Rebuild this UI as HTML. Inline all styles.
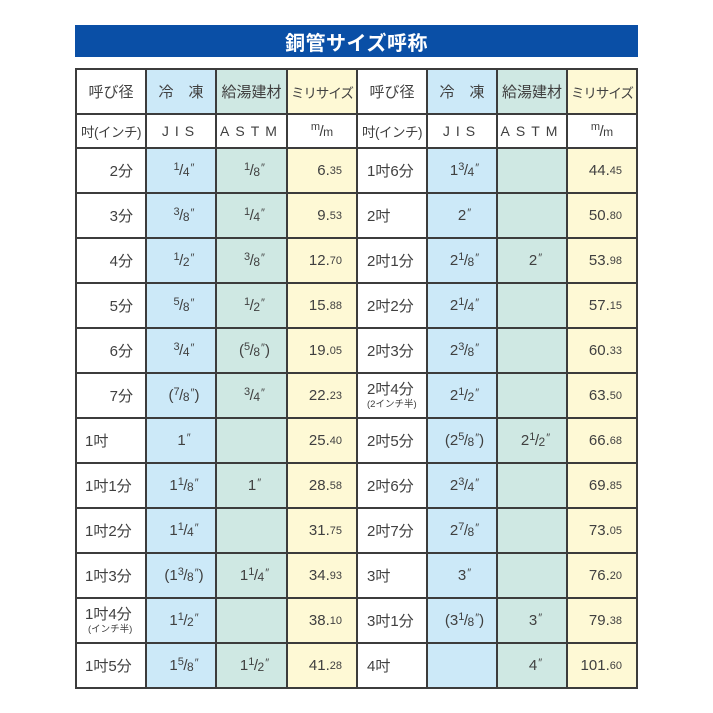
<!DOCTYPE html>
<html><head><meta charset="utf-8">
<style>
html,body{margin:0;padding:0;background:#fff;}
body{width:713px;height:713px;position:relative;overflow:hidden;font-family:"Liberation Sans","Noto Sans CJK JP",sans-serif;color:#404040;font-size:15px;}
.title{position:absolute;left:75px;top:25px;width:563px;height:32px;background:#0a4fa6;color:#fff;font-weight:bold;font-size:20px;display:flex;align-items:center;justify-content:center;letter-spacing:0.5px;font-family:"Liberation Sans","Noto Sans CJK JP",sans-serif;}
.bgw{position:absolute;left:76px;top:69px;width:561px;height:619px;background:#fff;}
.bl{position:absolute;background:#cce9f8;}
.tl{position:absolute;background:#cfe8e3;}
.yl{position:absolute;background:#fef9d5;}
.h{position:absolute;left:75px;width:563px;height:2px;background:#3c3c3c;}
.v{position:absolute;top:68px;width:2px;height:621px;background:#3c3c3c;}
.r{position:absolute;left:0;width:713px;height:45px;}
.c{position:absolute;top:0;height:45px;display:flex;align-items:center;box-sizing:border-box;white-space:nowrap;}
.a1{left:76px;width:70px;justify-content:flex-end;padding-right:13px;}
.a1l{left:76px;width:70px;justify-content:flex-start;padding-left:9px;}
.b{left:146px;width:70px;justify-content:center;padding-left:6px;}
.t{left:216px;width:71px;justify-content:center;padding-left:6px;}
.m{left:287px;width:70px;justify-content:flex-end;padding-right:15px;}
.e{left:357px;width:70px;justify-content:flex-start;padding-left:10px;}
.b2{left:427px;width:70px;justify-content:center;padding-left:5px;}
.t2{left:497px;width:70px;justify-content:center;padding-left:7px;}
.m2{left:567px;width:70px;justify-content:flex-end;padding-right:15px;}
.hc{justify-content:center;padding:0;}
.n{font-size:11px;position:relative;top:-4px;}
.d{font-size:12px;position:relative;top:1px;}
.sl{font-size:15px;margin:0 -0.5px;}
.q{font-size:11px;position:relative;top:-3px;margin-left:1px;}
.s{font-size:11px;}
.two{flex-direction:column;align-items:flex-start;justify-content:center;}
.two .sub{font-size:9.5px;line-height:11px;margin-top:1px;}
.two .main{line-height:17px;}
.sp{letter-spacing:6px;font-size:14px;}
.mili{font-size:13.5px;letter-spacing:-1px;}
</style></head><body>
<div class="title">銅管サイズ呼称</div>
<div class="bgw"></div>
<div class="bl" style="left:146px;top:69px;width:70px;height:45px"></div>
<div class="bl" style="left:146px;top:148px;width:70px;height:540px"></div>
<div class="tl" style="left:216px;top:69px;width:71px;height:45px"></div>
<div class="tl" style="left:216px;top:148px;width:71px;height:540px"></div>
<div class="yl" style="left:287px;top:69px;width:70px;height:45px"></div>
<div class="yl" style="left:287px;top:148px;width:70px;height:540px"></div>
<div class="bl" style="left:427px;top:69px;width:70px;height:45px"></div>
<div class="bl" style="left:427px;top:148px;width:70px;height:540px"></div>
<div class="tl" style="left:497px;top:69px;width:70px;height:45px"></div>
<div class="tl" style="left:497px;top:148px;width:70px;height:540px"></div>
<div class="yl" style="left:567px;top:69px;width:70px;height:45px"></div>
<div class="yl" style="left:567px;top:148px;width:70px;height:540px"></div>
<div class="h" style="top:68px"></div>
<div class="h" style="top:113px"></div>
<div class="h" style="top:147px"></div>
<div class="h" style="top:192px"></div>
<div class="h" style="top:237px"></div>
<div class="h" style="top:282px"></div>
<div class="h" style="top:327px"></div>
<div class="h" style="top:372px"></div>
<div class="h" style="top:417px"></div>
<div class="h" style="top:462px"></div>
<div class="h" style="top:507px"></div>
<div class="h" style="top:552px"></div>
<div class="h" style="top:597px"></div>
<div class="h" style="top:642px"></div>
<div class="h" style="top:687px"></div>
<div class="v" style="left:75px"></div>
<div class="v" style="left:145px"></div>
<div class="v" style="left:215px"></div>
<div class="v" style="left:286px"></div>
<div class="v" style="left:356px"></div>
<div class="v" style="left:426px"></div>
<div class="v" style="left:496px"></div>
<div class="v" style="left:566px"></div>
<div class="v" style="left:636px"></div>

<div class="r" style="top:69px">
<div class="c a1 hc">呼び径</div>
<div class="c b hc">冷　凍</div>
<div class="c t hc">給湯建材</div>
<div class="c m hc"><span class="mili">ミリサイズ</span></div>
<div class="c e hc">呼び径</div>
<div class="c b2 hc">冷　凍</div>
<div class="c t2 hc">給湯建材</div>
<div class="c m2 hc"><span class="mili">ミリサイズ</span></div>
</div>
<div class="r" style="top:114px;height:34px">
<div class="c a1 hc" style="height:34px;font-size:13.5px;letter-spacing:-0.5px">吋(インチ)</div>
<div class="c b hc" style="height:34px"><span class="sp">JIS</span></div>
<div class="c t hc" style="height:34px"><span class="sp">ASTM</span></div>
<div class="c m hc" style="height:34px"><span class="n">m</span><span class="sl">/</span><span class="d">m</span></div>
<div class="c e hc" style="height:34px;font-size:13.5px;letter-spacing:-0.5px">吋(インチ)</div>
<div class="c b2 hc" style="height:34px"><span class="sp">JIS</span></div>
<div class="c t2 hc" style="height:34px"><span class="sp">ASTM</span></div>
<div class="c m2 hc" style="height:34px"><span class="n">m</span><span class="sl">/</span><span class="d">m</span></div>
</div>

<div class="r" style="top:148px">
<div class="c a1">2分</div>
<div class="c b"><span class="n">1</span><span class="sl">/</span><span class="d">4</span><span class="q">″</span></div>
<div class="c t"><span class="n">1</span><span class="sl">/</span><span class="d">8</span><span class="q">″</span></div>
<div class="c m">6.<span class="s">35</span></div>
<div class="c e">1吋6分</div>
<div class="c b2">1<span class="n">3</span><span class="sl">/</span><span class="d">4</span><span class="q">″</span></div>
<div class="c t2"></div>
<div class="c m2">44.<span class="s">45</span></div>
</div>

<div class="r" style="top:193px">
<div class="c a1">3分</div>
<div class="c b"><span class="n">3</span><span class="sl">/</span><span class="d">8</span><span class="q">″</span></div>
<div class="c t"><span class="n">1</span><span class="sl">/</span><span class="d">4</span><span class="q">″</span></div>
<div class="c m">9.<span class="s">53</span></div>
<div class="c e">2吋</div>
<div class="c b2">2<span class="q">″</span></div>
<div class="c t2"></div>
<div class="c m2">50.<span class="s">80</span></div>
</div>

<div class="r" style="top:238px">
<div class="c a1">4分</div>
<div class="c b"><span class="n">1</span><span class="sl">/</span><span class="d">2</span><span class="q">″</span></div>
<div class="c t"><span class="n">3</span><span class="sl">/</span><span class="d">8</span><span class="q">″</span></div>
<div class="c m">12.<span class="s">70</span></div>
<div class="c e">2吋1分</div>
<div class="c b2">2<span class="n">1</span><span class="sl">/</span><span class="d">8</span><span class="q">″</span></div>
<div class="c t2">2<span class="q">″</span></div>
<div class="c m2">53.<span class="s">98</span></div>
</div>

<div class="r" style="top:283px">
<div class="c a1">5分</div>
<div class="c b"><span class="n">5</span><span class="sl">/</span><span class="d">8</span><span class="q">″</span></div>
<div class="c t"><span class="n">1</span><span class="sl">/</span><span class="d">2</span><span class="q">″</span></div>
<div class="c m">15.<span class="s">88</span></div>
<div class="c e">2吋2分</div>
<div class="c b2">2<span class="n">1</span><span class="sl">/</span><span class="d">4</span><span class="q">″</span></div>
<div class="c t2"></div>
<div class="c m2">57.<span class="s">15</span></div>
</div>

<div class="r" style="top:328px">
<div class="c a1">6分</div>
<div class="c b"><span class="n">3</span><span class="sl">/</span><span class="d">4</span><span class="q">″</span></div>
<div class="c t">(<span class="n">5</span><span class="sl">/</span><span class="d">8</span><span class="q">″</span>)</div>
<div class="c m">19.<span class="s">05</span></div>
<div class="c e">2吋3分</div>
<div class="c b2">2<span class="n">3</span><span class="sl">/</span><span class="d">8</span><span class="q">″</span></div>
<div class="c t2"></div>
<div class="c m2">60.<span class="s">33</span></div>
</div>

<div class="r" style="top:373px">
<div class="c a1">7分</div>
<div class="c b">(<span class="n">7</span><span class="sl">/</span><span class="d">8</span><span class="q">″</span>)</div>
<div class="c t"><span class="n">3</span><span class="sl">/</span><span class="d">4</span><span class="q">″</span></div>
<div class="c m">22.<span class="s">23</span></div>
<div class="c e two"><span class="main">2吋4分</span><span class="sub">(2インチ半)</span></div>
<div class="c b2">2<span class="n">1</span><span class="sl">/</span><span class="d">2</span><span class="q">″</span></div>
<div class="c t2"></div>
<div class="c m2">63.<span class="s">50</span></div>
</div>

<div class="r" style="top:418px">
<div class="c a1l">1吋</div>
<div class="c b">1<span class="q">″</span></div>
<div class="c t"></div>
<div class="c m">25.<span class="s">40</span></div>
<div class="c e">2吋5分</div>
<div class="c b2">(2<span class="n">5</span><span class="sl">/</span><span class="d">8</span><span class="q">″</span>)</div>
<div class="c t2">2<span class="n">1</span><span class="sl">/</span><span class="d">2</span><span class="q">″</span></div>
<div class="c m2">66.<span class="s">68</span></div>
</div>

<div class="r" style="top:463px">
<div class="c a1l">1吋1分</div>
<div class="c b">1<span class="n">1</span><span class="sl">/</span><span class="d">8</span><span class="q">″</span></div>
<div class="c t">1<span class="q">″</span></div>
<div class="c m">28.<span class="s">58</span></div>
<div class="c e">2吋6分</div>
<div class="c b2">2<span class="n">3</span><span class="sl">/</span><span class="d">4</span><span class="q">″</span></div>
<div class="c t2"></div>
<div class="c m2">69.<span class="s">85</span></div>
</div>

<div class="r" style="top:508px">
<div class="c a1l">1吋2分</div>
<div class="c b">1<span class="n">1</span><span class="sl">/</span><span class="d">4</span><span class="q">″</span></div>
<div class="c t"></div>
<div class="c m">31.<span class="s">75</span></div>
<div class="c e">2吋7分</div>
<div class="c b2">2<span class="n">7</span><span class="sl">/</span><span class="d">8</span><span class="q">″</span></div>
<div class="c t2"></div>
<div class="c m2">73.<span class="s">05</span></div>
</div>

<div class="r" style="top:553px">
<div class="c a1l">1吋3分</div>
<div class="c b">(1<span class="n">3</span><span class="sl">/</span><span class="d">8</span><span class="q">″</span>)</div>
<div class="c t">1<span class="n">1</span><span class="sl">/</span><span class="d">4</span><span class="q">″</span></div>
<div class="c m">34.<span class="s">93</span></div>
<div class="c e">3吋</div>
<div class="c b2">3<span class="q">″</span></div>
<div class="c t2"></div>
<div class="c m2">76.<span class="s">20</span></div>
</div>

<div class="r" style="top:598px">
<div class="c a1l two" style="padding-left:9px"><span class="main">1吋4分</span><span class="sub" style="margin-left:3px">(インチ半)</span></div>
<div class="c b">1<span class="n">1</span><span class="sl">/</span><span class="d">2</span><span class="q">″</span></div>
<div class="c t"></div>
<div class="c m">38.<span class="s">10</span></div>
<div class="c e">3吋1分</div>
<div class="c b2">(3<span class="n">1</span><span class="sl">/</span><span class="d">8</span><span class="q">″</span>)</div>
<div class="c t2">3<span class="q">″</span></div>
<div class="c m2">79.<span class="s">38</span></div>
</div>

<div class="r" style="top:643px">
<div class="c a1l">1吋5分</div>
<div class="c b">1<span class="n">5</span><span class="sl">/</span><span class="d">8</span><span class="q">″</span></div>
<div class="c t">1<span class="n">1</span><span class="sl">/</span><span class="d">2</span><span class="q">″</span></div>
<div class="c m">41.<span class="s">28</span></div>
<div class="c e">4吋</div>
<div class="c b2"></div>
<div class="c t2">4<span class="q">″</span></div>
<div class="c m2">101.<span class="s">60</span></div>
</div>

</body></html>
